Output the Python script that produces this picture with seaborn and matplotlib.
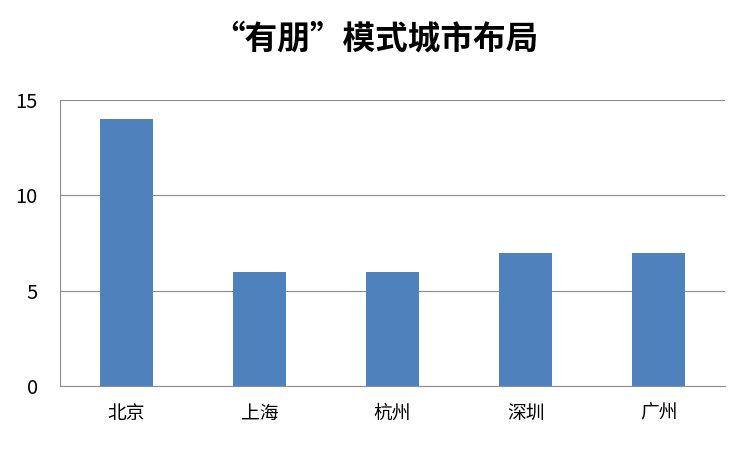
import matplotlib
matplotlib.use("Agg")
import matplotlib.pyplot as plt
import seaborn as sns
import pandas as pd

cities = ["北京", "上海", "杭州", "深圳", "广州"]
counts = [14, 6, 6, 7, 7]
yticks = [0, 5, 10, 15]
title = "“有朋”模式城市布局"

sns.set_style("white")
plt.rcParams['font.family'] = ['Noto Sans CJK SC', 'DejaVu Sans']
plt.rcParams['text.color'] = 'black'

df = pd.DataFrame({"city": cities, "count": counts})
fig = plt.figure(figsize=(7.5, 4.5), dpi=100)
ax = fig.add_axes([0.08, 0.142, 0.887, 0.636])
sns.barplot(data=df, x="city", y="count", color="#4F81BD", width=0.4,
            saturation=1, linewidth=0, ax=ax)
ax.set_ylim(0, 15)
ax.set_yticks(yticks)
ax.set_xlabel("")
ax.set_ylabel("")
ax.yaxis.grid(True, color="#8C8C8C", linewidth=0.8)
ax.set_axisbelow(True)
for s in ["top", "right"]:
    ax.spines[s].set_visible(False)
for s in ["left", "bottom"]:
    ax.spines[s].set_color("#8C8C8C")
    ax.spines[s].set_linewidth(0.8)
ax.tick_params(axis="x", length=0, labelsize=13.5, colors="black", pad=12)
ax.tick_params(axis="y", length=0, labelsize=14.5, colors="black", pad=16)
fig.suptitle(title, fontsize=23.5, fontweight="bold", y=0.95, color="black")
fig.savefig("out.png", dpi=100)
